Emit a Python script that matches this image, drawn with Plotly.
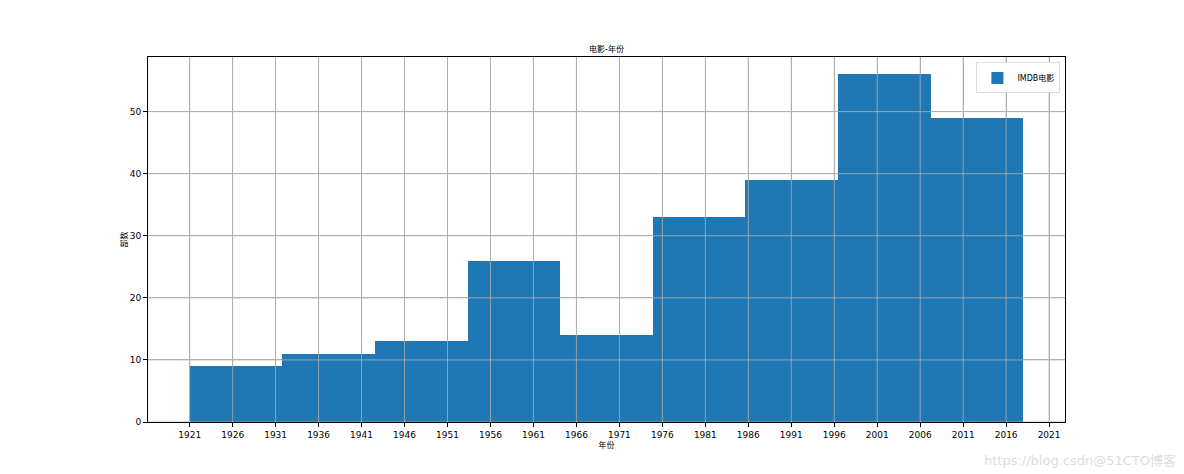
import plotly.graph_objects as go

bin_start = 1921
bin_end = 2018
counts = [9, 11, 13, 26, 14, 33, 39, 56, 49]
x_ticks = list(range(1921, 2022, 5))
y_ticks = [0, 10, 20, 30, 40, 50]

n = len(counts)
w = (bin_end - bin_start) / n
centers = [bin_start + w * (i + 0.5) for i in range(n)]

font = "DejaVu Sans, Noto Sans CJK SC, sans-serif"

# page body has an 8px margin, so the figure starts at (8, 8)
FW, FH = 1176, 466
L, R, T, B = 140, 119, 49, 52
grid_col = "#b0b0b0"

fig = go.Figure()
fig.add_trace(go.Bar(x=centers, y=counts, width=[w] * n, name="IMDB电影",
                     marker=dict(color="#1f77b4", line=dict(width=0)),
                     showlegend=True))

# grid drawn above the bars, like matplotlib's grid here
for t in x_ticks:
    fig.add_shape(type="line", xref="x", yref="paper", x0=t, x1=t, y0=0, y1=1,
                  line=dict(color=grid_col, width=0.8), layer="above")
for t in y_ticks:
    fig.add_shape(type="line", xref="paper", yref="y", x0=0, x1=1, y0=t, y1=t,
                  line=dict(color=grid_col, width=0.8), layer="above")

fig.update_layout(
    width=FW, height=FH,
    margin=dict(l=L, r=R, t=T, b=B),
    paper_bgcolor="white", plot_bgcolor="white",
    font=dict(family=font, size=9, color="black"),
    title=dict(text="电影-年份", x=(L + FW - R) / 2 / FW, xanchor="center",
               y=1 - 41 / FH, yanchor="middle", font=dict(size=8)),
    bargap=0,
    showlegend=True,
    legend=dict(x=0.995, y=0.985, xanchor="right", yanchor="top",
                bordercolor="#dddddd", borderwidth=1, bgcolor="white",
                font=dict(size=8), itemwidth=30),
    xaxis=dict(range=[bin_start - 0.05 * (bin_end - bin_start), bin_end + 0.05 * (bin_end - bin_start)],
               tickvals=x_ticks, ticktext=[str(t) for t in x_ticks],
               ticks="outside", ticklen=4, tickcolor="black",
               showline=True, linecolor="black", linewidth=1, mirror=True,
               showgrid=True, gridcolor=grid_col, gridwidth=0.8,
               zeroline=False, layer="above traces",
               title=dict(text="年份", font=dict(size=8), standoff=0)),
    yaxis=dict(range=[0, 56 * 1.05],
               tickvals=y_ticks,
               ticks="outside", ticklen=4, tickcolor="black",
               showline=True, linecolor="black", linewidth=1, mirror=True,
               showgrid=True, gridcolor=grid_col, gridwidth=0.8,
               zeroline=False, layer="above traces",
               title=dict(text="部数", font=dict(size=8), standoff=0)),
)

fig.add_annotation(text="https://blog.csdn@51CTO博客", xref="paper", yref="paper",
                   x=(1170 - L) / (FW - L - R), y=0,
                   showarrow=False, font=dict(size=13, color="#dddddd"),
                   xanchor="right", yanchor="middle", yshift=-38)

fig.write_html("out.html")
